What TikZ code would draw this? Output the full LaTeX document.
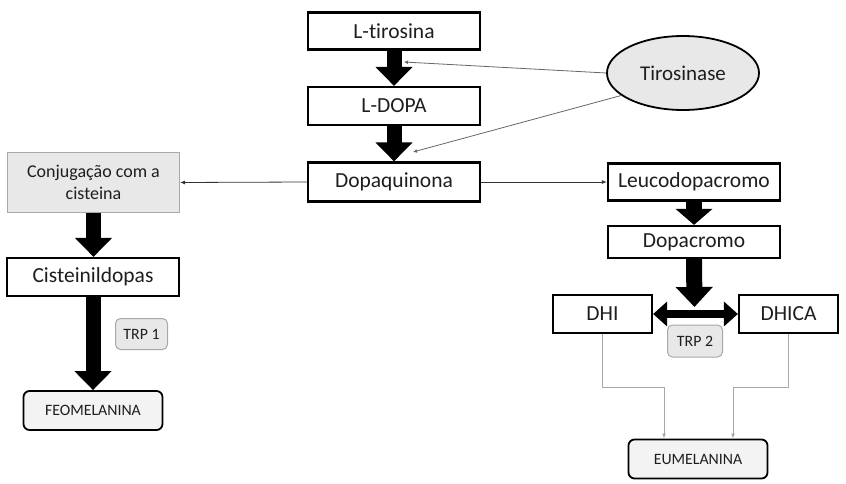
\documentclass[tikz,border=0pt]{standalone}
\usepackage{fontspec}
\setmainfont[Ligatures={NoCommon}]{Carlito}
\usetikzlibrary{arrows.meta,shapes.geometric}
\definecolor{txt}{HTML}{1E1E1E}
\definecolor{lgray}{HTML}{E8E8E8}
\definecolor{egray}{HTML}{F3F3F3}
\definecolor{bgray}{HTML}{A8A8A8}
\tikzset{
  box/.style={draw=black, line width=2.2pt, fill=white, text=txt, font=\fontsize{21.5}{23}\selectfont, inner sep=0pt},
  endbox/.style={draw=black, line width=1.8pt, rounded corners=6pt, fill=egray, text=txt, font=\fontsize{15.8}{17}\selectfont, inner sep=0pt},
  trp/.style={draw=bgray, line width=1pt, rounded corners=5pt, fill=lgray, text=txt, font=\fontsize{15.8}{17}\selectfont, inner sep=0pt},
  fat/.style={line width=15pt, -{Triangle[length=19pt,width=36pt]}},
  fatdouble/.style={line width=8pt, {Triangle[length=14pt,width=24pt]}-{Triangle[length=14pt,width=24pt]}},
  thin/.style={draw=black!80, line width=0.8pt, -{Latex[length=5pt,width=4pt]}},
  enz/.style={draw=black!60, line width=0.8pt, -{Latex[length=4pt,width=4pt]}},
  glin/.style={draw=bgray, line width=1pt, -{Latex[length=5pt,width=4pt]}},
}
\begin{document}
\begin{tikzpicture}[x=1pt,y=-1pt]
\useasboundingbox (0,0) rectangle (846,484);
% main column
\node[box, minimum width=172pt, minimum height=37pt] (tir) at (394,31) {L-tirosina};
\node[box, minimum width=172pt, minimum height=38pt] (dopa) at (394,106) {L-DOPA};
\node[box, minimum width=172pt, minimum height=39pt] (dq) at (394,182) {Dopaquinona};
\node[ellipse, draw=black, line width=1.8pt, fill=lgray, minimum width=152pt, minimum height=74pt, inner sep=0pt, text=txt, font=\fontsize{21}{23}\selectfont] (tyr) at (683,73) {Tirosinase};
% left branch
\node[draw=bgray, line width=1pt, fill=lgray, minimum width=172pt, minimum height=59pt, inner sep=0pt, align=center, text=txt, font=\fontsize{18}{22}\selectfont] (conj) at (93.5,182.5) {Conjugação com a\\cisteina};
\node[box, minimum width=172pt, minimum height=38pt] (cist) at (93,277) {Cisteinildopas};
\node[trp, minimum width=52pt, minimum height=31pt] (trp1) at (141.5,334) {TRP 1};
\node[endbox, minimum width=139pt, minimum height=39pt] (feo) at (93,410.5) {FEOMELANINA};
% right branch
\node[box, minimum width=172pt, minimum height=37pt] (leuco) at (694,182) {Leucodopacromo};
\node[box, minimum width=172pt, minimum height=32pt] (dc) at (694,242) {Dopacromo};
\node[box, minimum width=99pt, minimum height=38pt] (dhi) at (602.5,314) {DHI};
\node[box, minimum width=99pt, minimum height=38pt] (dhica) at (788.5,314) {DHICA};
\node[trp, minimum width=55pt, minimum height=32pt] (trp2) at (695,341) {TRP 2};
\node[endbox, minimum width=139pt, minimum height=39pt] (eu) at (698,459) {EUMELANINA};
\coordinate (tip1) at (404,62);
\coordinate (tip2) at (413,152);
\coordinate (dcend) at (694.5,307);
% connectors
\draw[fat] (tir.south) -- (dopa.north);
\draw[fat] (dopa.south) -- (dq.north);
\draw[enz] (tyr.west) -- (tip1);
\draw[enz] (tyr.200) -- (tip2);
\draw[thin] (dq.west) -- (conj.east);
\draw[thin] (dq.east) -- (leuco.west);
\draw[fat] (conj.south) -- (conj.south |- cist.north);
\draw[fat] (cist.south) -- (cist.south |- feo.north);
\draw[fat, line width=16pt, -{Triangle[length=16pt,width=36pt]}] (leuco.south) -- (dc.north);
\draw[fat, line width=16pt, -{Triangle[length=20pt,width=36pt]}] (dc.south) -- (dcend);
\draw[fatdouble] (dhi.east) -- (dhica.west);
\draw[glin] (dhi.south) |- (664,387) -- (664,387 |- eu.north);
\draw[glin] (dhica.south) |- (733,387) -- (733,387 |- eu.north);
\end{tikzpicture}
\end{document}
